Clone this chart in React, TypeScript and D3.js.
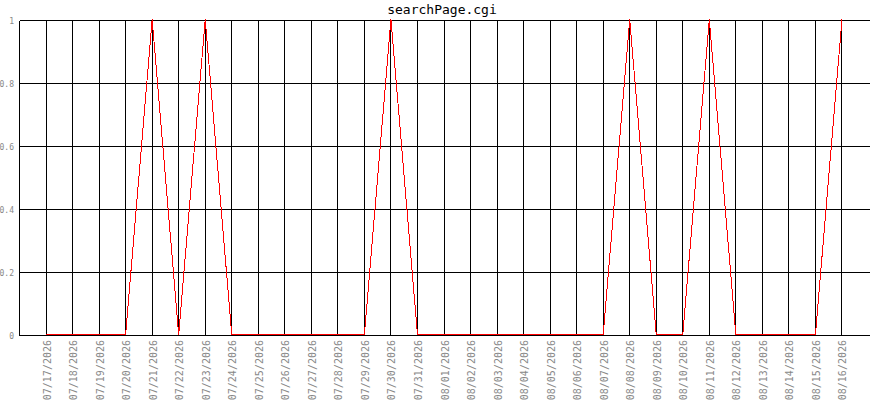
import { useEffect, useRef } from "react"
import * as d3 from "d3"

const dates = [
  "07/17/2026", "07/18/2026", "07/19/2026", "07/20/2026", "07/21/2026", "07/22/2026",
  "07/23/2026", "07/24/2026", "07/25/2026", "07/26/2026", "07/27/2026", "07/28/2026",
  "07/29/2026", "07/30/2026", "07/31/2026", "08/01/2026", "08/02/2026", "08/03/2026",
  "08/04/2026", "08/05/2026", "08/06/2026", "08/07/2026", "08/08/2026", "08/09/2026",
  "08/10/2026", "08/11/2026", "08/12/2026", "08/13/2026", "08/14/2026", "08/15/2026",
  "08/16/2026",
]
const hits = [
  0, 0, 0, 0, 1, 0, 1, 0, 0, 0, 0, 0, 0, 1, 0, 0, 0, 0, 0, 0, 0, 0, 1, 0, 0, 1, 0, 0, 0, 0, 1,
]
const yTicks = [0, 0.2, 0.4, 0.6, 0.8, 1]
const title = "searchPage.cgi"

const width = 870
const height = 400

export default function App() {
  const svgRef = useRef<SVGSVGElement>(null)

  useEffect(() => {
    if (!svgRef.current) return
    const svg = d3.select(svgRef.current)
    svg.selectAll("*").remove()

    const left = 19.5
    const step = (868.5 - left) / (dates.length + 1)
    const x = d3.scaleLinear().domain([-1, dates.length]).range([left, left + step * (dates.length + 1)])
    const y = d3.scaleLinear().domain([0, 1]).range([335.5, 20.5])
    const snap = (v: number) => Math.round(v - 0.5) + 0.5

    // titre
    svg
      .append("text")
      .attr("x", 442)
      .attr("y", 14)
      .attr("text-anchor", "middle")
      .attr("font-family", "DejaVu Sans Mono, monospace")
      .attr("font-size", 13)
      .attr("fill", "#000")
      .text(title)

    const grid = svg.append("g").attr("shape-rendering", "crispEdges").attr("stroke", "#000")

    // lignes horizontales
    grid
      .selectAll(".h")
      .data(yTicks)
      .enter()
      .append("line")
      .attr("x1", left)
      .attr("x2", width)
      .attr("y1", (d) => snap(y(d)))
      .attr("y2", (d) => snap(y(d)))

    // lignes verticales (bord gauche + chaque date)
    const vx = [-1, ...dates.map((_, i) => i)]
    grid
      .selectAll(".v")
      .data(vx)
      .enter()
      .append("line")
      .attr("x1", (d) => snap(x(d)))
      .attr("x2", (d) => snap(x(d)))
      .attr("y1", y(1))
      .attr("y2", y(0))

    // étiquettes Y
    svg
      .append("g")
      .selectAll("text")
      .data(yTicks)
      .enter()
      .append("text")
      .attr("x", 14)
      .attr("y", (d) => y(d) + 3)
      .attr("text-anchor", "end")
      .attr("font-family", "DejaVu Sans Mono, monospace")
      .attr("font-size", 8)
      .attr("fill", "#888")
      .text((d) => String(d))

    // étiquettes X
    svg
      .append("g")
      .selectAll("text")
      .data(dates)
      .enter()
      .append("text")
      .attr("transform", (_, i) => `translate(${snap(x(i)) + 4},340) rotate(-90)`)
      .attr("text-anchor", "end")
      .attr("font-family", "DejaVu Sans Mono, monospace")
      .attr("font-size", 10)
      .attr("fill", "#888")
      .text((d) => d)

    // courbe
    const line = d3
      .line<number>()
      .x((_, i) => x(i))
      .y((d) => y(d) - 1)

    svg
      .append("path")
      .datum(hits)
      .attr("d", line)
      .attr("fill", "none")
      .attr("stroke", "#ff0000")
      .attr("stroke-width", 1)
      .attr("shape-rendering", "crispEdges")
  }, [])

  return (
    <svg
      ref={svgRef}
      width={width}
      height={height}
      style={{ position: "absolute", left: 0, top: 0, background: "#fff" }}
    />
  )
}
